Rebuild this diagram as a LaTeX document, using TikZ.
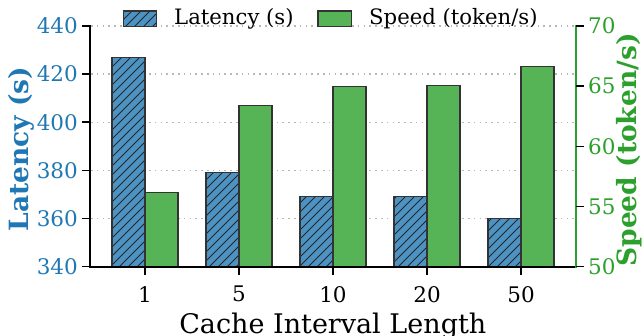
\documentclass[tikz,border=0pt]{standalone}
\usepackage{fontspec}
\setmainfont{DejaVu Serif}
\definecolor{latc}{HTML}{1F77B4}
\definecolor{spdc}{HTML}{2CA02C}
\definecolor{latfill}{HTML}{4C92C3}
\definecolor{spdfill}{HTML}{56B356}
\definecolor{gridc}{HTML}{B8B8B8}
\tikzset{
  gridline/.style={gridc, line width=1.3pt, dash pattern=on 1.6pt off 4.2pt},
  spine/.style={line width=1.8pt, line cap=rect},
  tickmark/.style={line width=1.6pt, black},
  latbar/.style={fill=latfill, draw=black!80, line width=1.1pt},
  spdbar/.style={fill=spdfill, draw=black!80, line width=1.1pt},
  hatchline/.style={black!85, line width=0.9pt},
  ticklab/.style={inner sep=0pt, font=\fontsize{21.5}{25}\selectfont},
  axlab/.style={inner sep=0pt, font=\fontsize{26.5}{30}\selectfont\bfseries},
  leglab/.style={inner sep=0pt, anchor=west, font=\fontsize{21.2}{25}\selectfont},
}
\newcommand{\ly}[1]{266.7-(#1-340)*2.407}
\newcommand{\sy}[1]{266.7-(#1-50)*12.035}
\begin{document}
\begin{tikzpicture}[x=1pt,y=-1pt]
\useasboundingbox (0,0) rectangle (642,336);
% grid
\foreach \v in {360,380,400,420,440}{
  \draw[gridline] (91,{\ly{\v}}) -- (575,{\ly{\v}});
}
% bars
\foreach \c/\lat/\spd [count=\i] in {145/427/56.2, 239/379/63.4, 333/369.1/65.0, 427/369/65.05, 521/360.1/66.6}{
  \coordinate (lb\i) at ({\c-33},266.7);
  \coordinate (lt\i) at (\c,{\ly{\lat}});
  \fill[latfill] (lb\i) rectangle (lt\i);
  \begin{scope}
    \clip (lb\i) rectangle (lt\i);
    \foreach \s in {-250,-241,...,650}{
      \draw[hatchline] (\s,267) -- ({\s+260},7);
    }
  \end{scope}
  \draw[draw=black!80, line width=1.1pt] (lb\i) rectangle (lt\i);
  \coordinate (sb\i) at (\c,266.7);
  \coordinate (st\i) at ({\c+33},{\sy{\spd}});
  \draw[spdbar] (sb\i) rectangle (st\i);
}
% spines
\coordinate (o) at (90,266.7);
\coordinate (lt) at (90,26);
\coordinate (r0) at (576,266.7);
\coordinate (rt) at (576,26);
\draw[spine, black] (lt) -- (o) -- (r0);
\draw[spine, spdc] (r0) -- (rt);
% left ticks
\foreach \v in {340,360,380,400,420,440}{
  \draw[tickmark] (82,{\ly{\v}}) -- (90,{\ly{\v}});
  \node[ticklab, anchor=east, text=latc] (ll\v) at (78,{\ly{\v}}) {\v};
}
% right ticks
\foreach \v in {50,55,60,65,70}{
  \draw[tickmark] (576,{\sy{\v}}) -- (584,{\sy{\v}});
  \node[ticklab, anchor=west, text=spdc] (rl\v) at (588,{\sy{\v}}) {\v};
}
% bottom ticks
\foreach \c/\t in {145/1, 239/5, 333/10, 427/20, 521/50}{
  \draw[tickmark] (\c,266.7) -- (\c,275);
  \node[ticklab, anchor=center] (bl\t) at (\c,294.3) {\t};
}
% axis labels
\node[inner sep=0pt, anchor=base, font=\fontsize{27}{32}\selectfont] (xlab) at (332.8,333.5) {Cache Interval Length};
\node[axlab, rotate=90, text=latc] (ylab) at (21.5,149) {Latency (s)};
\node[axlab, rotate=90, text=spdc] (y2lab) at (629,150) {Speed (token/s)};
% legend
\coordinate (p1a) at (123.3,11);
\coordinate (p1b) at (156.7,26.7);
\fill[latfill] (p1a) rectangle (p1b);
\begin{scope}
  \clip (p1a) rectangle (p1b);
  \foreach \s in {-250,-241,...,650}{
    \draw[hatchline] (\s,267) -- ({\s+260},7);
  }
\end{scope}
\draw[draw=black!80, line width=1.1pt] (p1a) rectangle (p1b);
\node[leglab] (leg1) at (174,19) {Latency (s)};
\draw[spdbar] (318,11) rectangle (351.7,26.7);
\node[leglab] (leg2) at (369,19) {Speed (token/s)};
\end{tikzpicture}
\end{document}
